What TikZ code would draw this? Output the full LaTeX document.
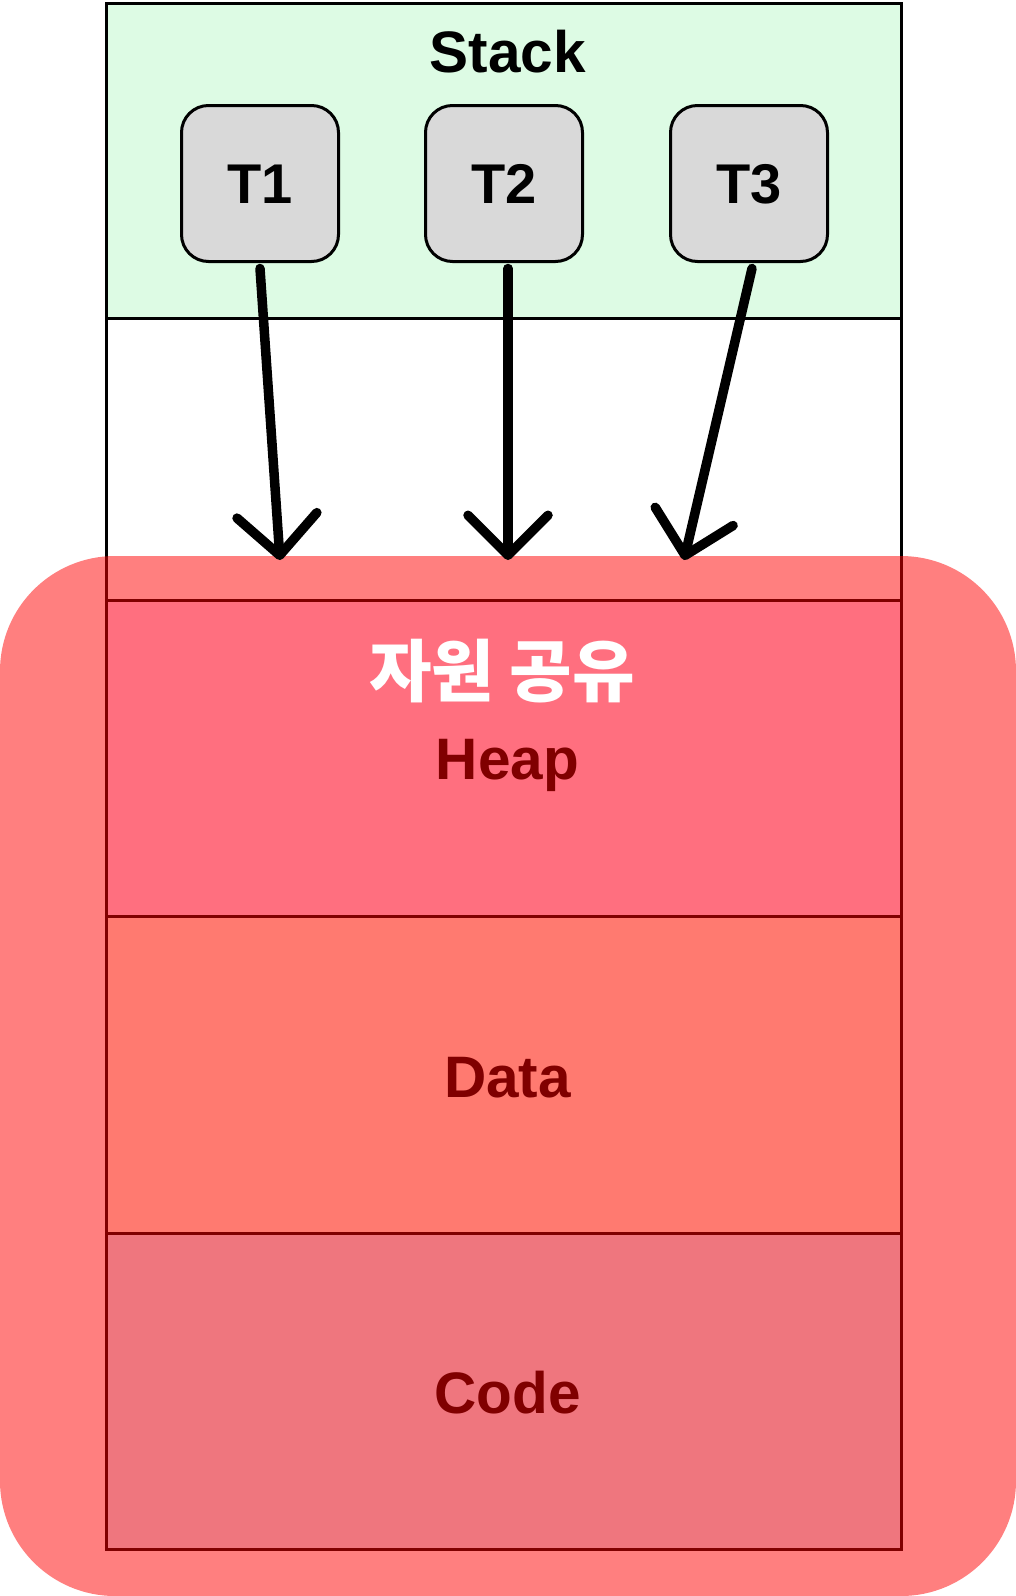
\documentclass[tikz,border=0pt]{standalone}
\usepackage{fontspec}
\setmainfont{Liberation Sans}
\newfontfamily\krfont{Noto Sans CJK KR}
\usetikzlibrary{arrows.meta}
\definecolor{stackgreen}{HTML}{DDFBE4}
\definecolor{tgray}{HTML}{D9D9D9}
\definecolor{heapc}{HTML}{FF6F7F}
\definecolor{datac}{HTML}{FF7A70}
\definecolor{codec}{HTML}{EF767E}
\definecolor{darkred}{HTML}{800000}
\begin{document}
\begin{tikzpicture}[x=1pt,y=-1pt,
  lbl/.style={font=\bfseries\fontsize{58.5}{62}\selectfont},
  seg/.style={draw=darkred, line width=3pt, inner sep=0pt, minimum width=795pt},
  seglbl/.style={text=darkred, lbl, anchor=base},
  thr/.style={draw=black, fill=tgray, line width=3pt, rounded corners=27pt,
    minimum width=157pt, minimum height=156pt, inner sep=0pt,
    font=\bfseries\fontsize{56}{60}\selectfont,
    text height=40pt, text depth=0pt},
  arr/.style={line width=9.5pt, line cap=round,
    -{Straight Barb[length=40pt,width=80pt,line cap=round,line join=round]}}
]
% background / bounding box
\fill[white] (0,0) rectangle (1016,1596);
\useasboundingbox (0,0) rectangle (1016,1596);

% stack section and free space
\node[draw=black, fill=stackgreen, line width=3pt, inner sep=0pt,
  minimum width=795pt, minimum height=315pt] (stack) at (503.5,160.5) {};
\node[lbl, anchor=base] (stacklbl) at (508,72.5) {Stack};
\node[draw=black, line width=3pt, inner sep=0pt,
  minimum width=795pt, minimum height=282pt] (free) at (503.5,459) {};

% shared region (semi-transparent red)
\node[fill=red, fill opacity=0.5, rounded corners=115pt, inner sep=0pt,
  minimum width=1016pt, minimum height=1040pt] (shared) at (508,1076) {};

% heap / data / code
\node[seg, fill=heapc, minimum height=316pt] (heap) at (503.5,758) {};
\node[seg, fill=datac, minimum height=317pt] (data) at (503.5,1074.5) {};
\node[seg, fill=codec, minimum height=316pt] (code) at (503.5,1391) {};
\node[seglbl] (heaplbl) at (507.5,779.5) {Heap};
\node[seglbl] (datalbl) at (507.5,1097) {Data};
\node[seglbl] (codelbl) at (507.5,1413) {Code};

\node[text=white, font=\krfont\bfseries\fontsize{68}{72}\selectfont] (share) at (502,671.5) {자원 공유};

% threads
\node[thr] (t1) at (260,183.5) {T1};
\node[thr] (t2) at (504,183.5) {T2};
\node[thr] (t3) at (749,183.5) {T3};

\coordinate (e1) at (280,560);
\coordinate (e2) at (508,560);
\coordinate (e3) at (684,560);
\draw[arr] ([yshift=-5.5pt]t1.south) -- (e1);
\draw[arr] ([xshift=4pt,yshift=-5.5pt]t2.south) -- (e2);
\draw[arr] ([xshift=3pt,yshift=-5.5pt]t3.south) -- (e3);
\end{tikzpicture}
\end{document}
